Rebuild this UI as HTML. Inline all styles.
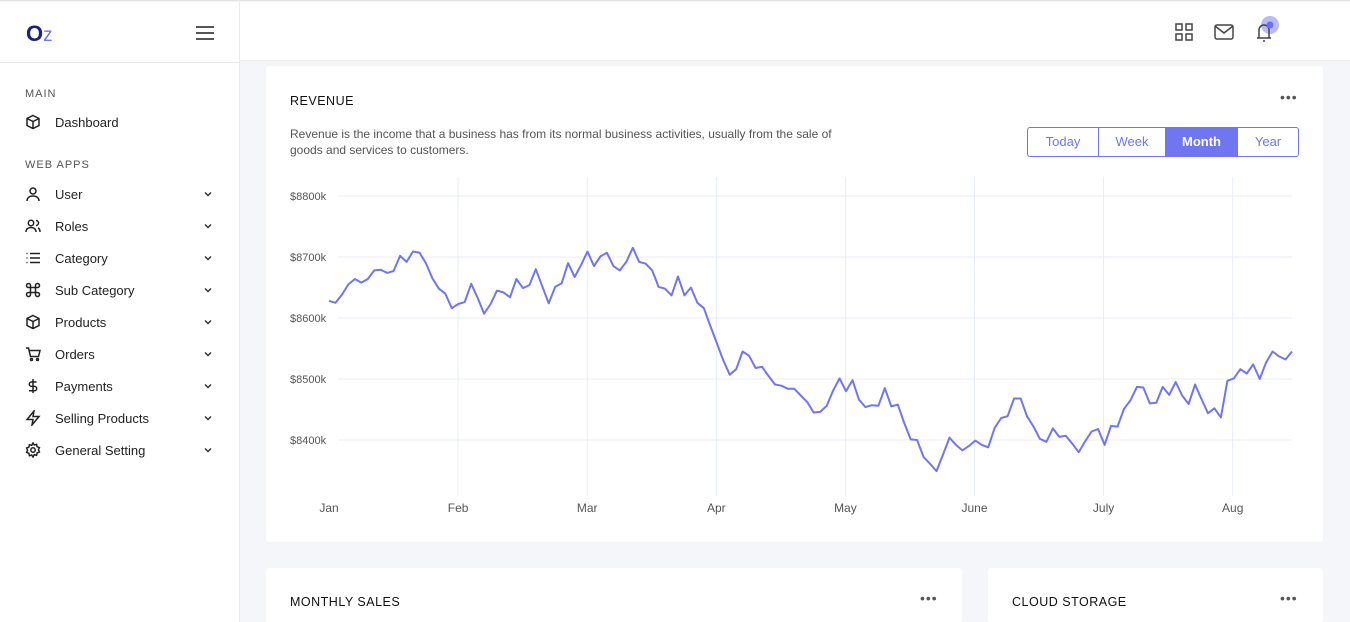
<!DOCTYPE html>
<html><head><meta charset="utf-8">
<style>
*{box-sizing:border-box;margin:0;padding:0}
html,body{width:1350px;height:622px;overflow:hidden}
body{background:#f5f6fa;font-family:"Liberation Sans",sans-serif;color:#333;position:relative;border-top:1px solid #e3e3e3}
.side{position:absolute;left:0;top:1px;width:240px;height:621px;background:#fff;border-right:1px solid #ececec}
.logo{position:absolute;left:26px;top:19px;font-size:22px;font-weight:bold;color:#1a2470}
.logo span{color:#7076f0;font-weight:normal;font-size:19px}
.burger{position:absolute;left:196px;top:24px;width:18px}
.burger i{display:block;height:2px;background:#555;margin-bottom:4px}
.sidehr{position:absolute;left:0;top:60px;width:240px;border-top:1px solid #ececec}
.sec{position:absolute;left:25px;font-size:11px;letter-spacing:1px;color:#555}
.item{position:absolute;left:25px;width:190px;height:20px;font-size:13px;color:#222;display:flex;align-items:center}
.item svg{width:16px;height:16px;margin-right:14px}
.item .chev{position:absolute;right:2px;width:10px;height:10px;margin:0}
.top{position:absolute;left:240px;top:1px;width:1110px;height:59px;background:#fff;border-bottom:1px solid #ececec}
.card{position:absolute;background:#fff;border-radius:3px}
.title{position:absolute;font-size:12.5px;letter-spacing:.5px;color:#111}
.dots{position:absolute;font-size:14px;color:#555;letter-spacing:1px}
.desc{position:absolute;left:24px;top:60px;width:560px;font-size:12px;line-height:16px;color:#555}
.btns{position:absolute;left:761px;top:61px;height:30px;display:flex;border:1px solid #7076f0;border-radius:3px;overflow:hidden}
.btns div{height:28px;line-height:28px;text-align:center;font-size:13px;color:#7076f0;border-right:1px solid #7076f0}
.btns div:last-child{border-right:none}
.btns .on{background:#7076f0;color:#fff;font-weight:bold}
</style></head><body>
<div class="side">
 <div class="logo">O<span>z</span></div>
 <div class="burger"><i></i><i></i><i></i></div>
 <div class="sidehr"></div>
 <div class="sec" style="top:86px">MAIN</div>
 <div class="item" style="top:110px"><svg viewBox="0 0 16 16" fill="none" stroke="#222" stroke-width="1.5"><path d="M8 1.5l6 3v7l-6 3-6-3v-7z M2 4.5l6 3 6-3 M8 7.5v7"/></svg>Dashboard</div>
 <div class="sec" style="top:157px">WEB APPS</div>
 <div class="item" style="top:182px"><svg viewBox="0 0 16 16" fill="none" stroke="#222" stroke-width="1.5"><circle cx="8" cy="5" r="3"/><path d="M2 15c0-3.5 2.7-5 6-5s6 1.5 6 5"/></svg>User<svg class="chev" viewBox="0 0 10 10" fill="none" stroke="#333" stroke-width="1.5"><path d="M2 3.5l3 3 3-3"/></svg></div>
 <div class="item" style="top:214px"><svg viewBox="0 0 16 16" fill="none" stroke="#222" stroke-width="1.5"><circle cx="6" cy="5" r="2.7"/><path d="M1 14c0-3 2.2-4.5 5-4.5s5 1.5 5 4.5M11 2.5a2.5 2.5 0 010 5M13 9.8c1.3.6 2 1.9 2 4.2"/></svg>Roles<svg class="chev" viewBox="0 0 10 10" fill="none" stroke="#333" stroke-width="1.5"><path d="M2 3.5l3 3 3-3"/></svg></div>
 <div class="item" style="top:246px"><svg viewBox="0 0 16 16" fill="none" stroke="#222" stroke-width="1.5"><path d="M5 3.5h10M5 8h10M5 12.5h10M1.5 3.5h1M1.5 8h1M1.5 12.5h1"/></svg>Category<svg class="chev" viewBox="0 0 10 10" fill="none" stroke="#333" stroke-width="1.5"><path d="M2 3.5l3 3 3-3"/></svg></div>
 <div class="item" style="top:278px"><svg viewBox="0 0 16 16" fill="none" stroke="#222" stroke-width="1.5"><path d="M5.5 5.5h5v5h-5zM5.5 5.5V3.5a2 2 0 10-2 2h2M10.5 5.5V3.5a2 2 0 112 2h-2M5.5 10.5v2a2 2 0 11-2-2h2M10.5 10.5v2a2 2 0 102-2h-2"/></svg>Sub Category<svg class="chev" viewBox="0 0 10 10" fill="none" stroke="#333" stroke-width="1.5"><path d="M2 3.5l3 3 3-3"/></svg></div>
 <div class="item" style="top:310px"><svg viewBox="0 0 16 16" fill="none" stroke="#222" stroke-width="1.5"><path d="M8 1.5l6 3v7l-6 3-6-3v-7z M2 4.5l6 3 6-3 M8 7.5v7"/></svg>Products<svg class="chev" viewBox="0 0 10 10" fill="none" stroke="#333" stroke-width="1.5"><path d="M2 3.5l3 3 3-3"/></svg></div>
 <div class="item" style="top:342px"><svg viewBox="0 0 16 16" fill="none" stroke="#222" stroke-width="1.5"><path d="M1 2h2.5l2 8.5h8l1.5-6H4.5"/><circle cx="6.5" cy="13.5" r="1"/><circle cx="12.5" cy="13.5" r="1"/></svg>Orders<svg class="chev" viewBox="0 0 10 10" fill="none" stroke="#333" stroke-width="1.5"><path d="M2 3.5l3 3 3-3"/></svg></div>
 <div class="item" style="top:374px"><svg viewBox="0 0 16 16" fill="none" stroke="#222" stroke-width="1.5"><path d="M8 1v14M11.5 4H6.5a2.2 2.2 0 000 4.4h3a2.2 2.2 0 010 4.4H4"/></svg>Payments<svg class="chev" viewBox="0 0 10 10" fill="none" stroke="#333" stroke-width="1.5"><path d="M2 3.5l3 3 3-3"/></svg></div>
 <div class="item" style="top:406px"><svg viewBox="0 0 16 16" fill="none" stroke="#222" stroke-width="1.5"><path d="M9 1L2 9.5h6L7 15l7-8.5H8z"/></svg>Selling Products<svg class="chev" viewBox="0 0 10 10" fill="none" stroke="#333" stroke-width="1.5"><path d="M2 3.5l3 3 3-3"/></svg></div>
 <div class="item" style="top:438px"><svg viewBox="0 0 16 16" fill="none" stroke="#222" stroke-width="1.5"><circle cx="8" cy="8" r="2.2"/><path d="M8 1l1.3 2 2.3-.7.5 2.4 2.3.9-1 2.2 1 2.2-2.3.9-.5 2.4-2.3-.7L8 15l-1.3-2-2.3.7-.5-2.4-2.3-.9 1-2.2-1-2.2 2.3-.9.5-2.4 2.3.7z"/></svg>General Setting<svg class="chev" viewBox="0 0 10 10" fill="none" stroke="#333" stroke-width="1.5"><path d="M2 3.5l3 3 3-3"/></svg></div>
</div>
<div class="top">
 <svg style="position:absolute;left:935px;top:21px" width="18" height="18" viewBox="0 0 18 18" fill="none" stroke="#444" stroke-width="1.5"><rect x="1" y="1" width="6" height="6"/><rect x="11" y="1" width="6" height="6"/><rect x="1" y="11" width="6" height="6"/><rect x="11" y="11" width="6" height="6"/></svg>
 <svg style="position:absolute;left:974px;top:22px" width="20" height="16" viewBox="0 0 20 16" fill="none" stroke="#444" stroke-width="1.5"><rect x="1" y="1" width="18" height="14" rx="2"/><path d="M1 2l9 7 9-7"/></svg>
 <svg style="position:absolute;left:1012px;top:12px" width="30" height="28" viewBox="0 0 30 28"><circle cx="18" cy="11" r="9" fill="#b8bbf7"/><path d="M5 24h14M7 24v-8a5 5 0 0110 0v8M11 27h2" fill="none" stroke="#444" stroke-width="1.5"/><circle cx="18" cy="11" r="3.5" fill="#6a70ee"/></svg>
</div>
<div class="card" style="left:266px;top:65px;width:1057px;height:476px">
 <div class="title" style="left:24px;top:28px">REVENUE</div>
 <div class="dots" style="left:1014px;top:23px">•••</div>
 <div class="desc">Revenue is the income that a business has from its normal business activities, usually from the sale of goods and services to customers.</div>
 <div class="btns">
  <div style="width:71px">Today</div>
  <div style="width:67px">Week</div>
  <div class="on" style="width:72px">Month</div>
  <div style="width:60px">Year</div>
 </div>
</div>
<svg id="chart" style="position:absolute;left:0;top:0" width="1350" height="622"></svg>
<div class="card" style="left:266px;top:567px;width:696px;height:55px">
 <div class="title" style="left:24px;top:27px">MONTHLY SALES</div>
 <div class="dots" style="left:654px;top:22px">•••</div>
</div>
<div class="card" style="left:988px;top:567px;width:335px;height:55px">
 <div class="title" style="left:24px;top:27px">CLOUD STORAGE</div>
 <div class="dots" style="left:292px;top:22px">•••</div>
</div>
<script>
const monthLabels=["Jan","Feb","Mar","Apr","May","June","July","Aug"];
const yTicks=[8400,8500,8600,8700,8800];
const revenue=[8628,8625,8638,8655,8664,8658,8664,8678,8679,8674,8677,8702,8692,8709,8707,8690,8665,8648,8640,8616,8623,8626,8656,8633,8607,8623,8645,8642,8634,8664,8649,8654,8680,8652,8624,8651,8657,8690,8667,8687,8709,8685,8701,8707,8685,8678,8692,8715,8692,8689,8678,8651,8648,8637,8668,8637,8650,8625,8616,8587,8559,8531,8507,
8516,8545,8538,8518,8520,8505,8491,8489,8484,8484,8473,8462,8445,8446,8456,8481,8501,8480,8498,8466,8454,8457,8456,8485,8455,8458,8428,8401,8400,8372,8361,8349,8376,8404,8392,8383,8390,8399,8392,8388,8420,8436,8439,8468,8468,8439,8422,8402,8397,8419,8405,8407,8394,8380,8398,8414,8418,8392,8423,8422,8451,8465,8487,8486,8460,8461,8487,8474,8495,8473,8459,8491,8467,8444,8452,8437,8497,8501,8516,8509,8524,8500,8527,8545,8537,8532,8545];
const svg=document.getElementById('chart');
const NS='http://www.w3.org/2000/svg';
function yScale(v){return 195+(8800-v)*0.61;}
function xMonth(i){return 329+i*129.1;}
function xIdx(i){return 329+i*(1292-329)/(revenue.length-1);}
yTicks.forEach(t=>{
 const l=document.createElementNS(NS,'line');
 
 
 l.setAttribute('x1',338);l.setAttribute('x2',1292);l.setAttribute('y1',yScale(t));l.setAttribute('y2',yScale(t));
 l.setAttribute('stroke','#e8edf8');svg.appendChild(l);
 const tx=document.createElementNS(NS,'text');
 
 
 tx.setAttribute('x',290);tx.setAttribute('y',yScale(t)+4);
 tx.setAttribute('font-size','11');tx.setAttribute('fill','#555');tx.setAttribute('font-family','Liberation Sans, sans-serif');
 tx.textContent='$'+t+'k';svg.appendChild(tx);
});
monthLabels.forEach((m,i)=>{
 const x=xMonth(i);
 if(i>0){const l=document.createElementNS(NS,'line');
 
 
 l.setAttribute('x1',x);l.setAttribute('x2',x);l.setAttribute('y1',176);l.setAttribute('y2',495);
 l.setAttribute('stroke','#e8edf8');svg.appendChild(l);}
 const tx=document.createElementNS(NS,'text');
 
 
 tx.setAttribute('x',x);tx.setAttribute('y',511);tx.setAttribute('text-anchor','middle');
 tx.setAttribute('font-size','12');tx.setAttribute('fill','#555');tx.setAttribute('font-family','Liberation Sans, sans-serif');
 tx.textContent=m;svg.appendChild(tx);
});
const p=document.createElementNS(NS,'polyline');


p.setAttribute('points',revenue.map((v,i)=>xIdx(i).toFixed(1)+','+yScale(v).toFixed(1)).join(' '));
p.setAttribute('fill','none');p.setAttribute('stroke','#7076f0');p.setAttribute('stroke-width','2');p.setAttribute('stroke-linejoin','round');
svg.appendChild(p);
</script>
</body></html>
